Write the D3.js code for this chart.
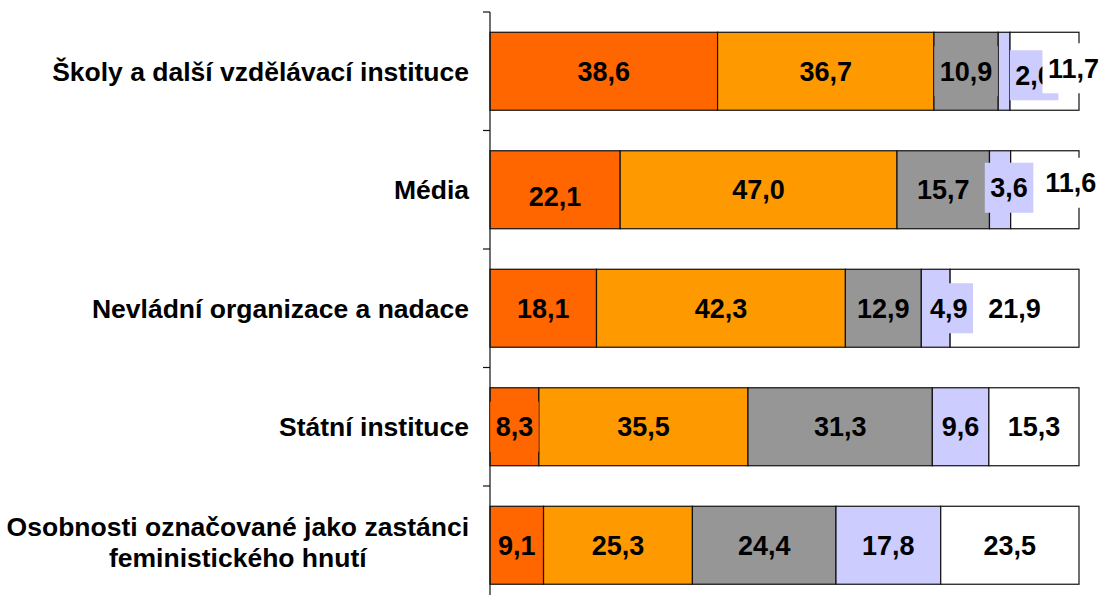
<!DOCTYPE html>
<html>
<head>
<meta charset="utf-8">
<script src="https://cdn.jsdelivr.net/npm/d3@7"></script>
<style>
    body { margin: 0; background: #fff; }
    svg { display: block; font-family: "Liberation Sans", Arial, sans-serif; font-weight: bold; }
</style>
</head>
<body>
<svg width="1104" height="595"></svg>
<script>
// categories, top to bottom (multi-line labels split with \n)
const categories = [
    "Školy a další vzdělávací instituce",
    "Média",
    "Nevládní organizace a nadace",
    "Státní instituce",
    "Osobnosti označované jako zastánci\nfeministického hnutí"
];

// five answer groups, one value per category
const s1 = [38.6, 22.1, 18.1, 8.3, 9.1];
const s2 = [36.7, 47.0, 42.3, 35.5, 25.3];
const s3 = [10.9, 15.7, 12.9, 31.3, 24.4];
const s4 = [2.0, 3.6, 4.9, 9.6, 17.8];
const s5 = [11.7, 11.6, 21.9, 15.3, 23.5];
const series = [s1, s2, s3, s4, s5];

const colors = ["#FF6600", "#FF9900", "#969696", "#CCCCFF", "#FFFFFF"];

// labels that were moved by hand in the original: [row, series, dx, dy]
const labelNudges = [[0, 3, 30, 4], [0, 4, 29, -3], [1, 0, 0, 7], [1, 3, 9, -2], [1, 4, 26, -7], [2, 3, 13, 0]];

const svg = d3.select("svg");

const y = d3.scaleBand()
    .domain(categories)
    .range([12, 604.5])
    .paddingInner(0.342)
    .paddingOuter(0.171);

const x = d3.scaleLinear().domain([0, 100]).range([490, 1079]);

const fmt = v => v.toFixed(1).replace(".", ",");

// build stacked rows normalised to 100 %
const rows = categories.map((c, i) => {
    const total = d3.sum(series, s => s[i]);
    let acc = 0;
    return series.map((s, j) => {
        const seg = { cat: c, row: i, ser: j, value: s[i], x0: acc / total * 100 };
        acc += s[i];
        seg.x1 = acc / total * 100;
        return seg;
    });
});
const segs = rows.flat();

// bars
svg.append("g").selectAll("rect")
    .data(segs)
    .join("rect")
    .attr("x", d => x(d.x0))
    .attr("y", d => y(d.cat))
    .attr("width", d => x(d.x1) - x(d.x0))
    .attr("height", y.bandwidth())
    .attr("fill", d => colors[d.ser])
    .attr("stroke", "#111")
    .attr("stroke-width", 1.2);

// axis line with ticks between categories
const axis = svg.append("g");
axis.append("line")
    .attr("x1", x(0)).attr("x2", x(0))
    .attr("y1", y.range()[0]).attr("y2", y.range()[1])
    .attr("stroke", "#111").attr("stroke-width", 1.2);
d3.range(categories.length + 1).forEach(i => {
    const ty = y.range()[0] + i * y.step();
    axis.append("line")
        .attr("x1", x(0) - 7).attr("x2", x(0))
        .attr("y1", ty).attr("y2", ty)
        .attr("stroke", "#111").attr("stroke-width", 1.2);
});

// category labels
categories.forEach(c => {
    const lines = c.split("\n");
    const cy = y(c) + y.bandwidth() / 2;
    const g = svg.append("g");
    const texts = lines.map((t, k) => g.append("text")
        .attr("font-size", "26.5px")
        .attr("fill", "#000")
        .attr("text-anchor", "middle")
        .attr("y", cy + 9.5 + (k - (lines.length - 1) / 2) * 31 - (lines.length > 1 ? 3 : 0))
        .text(t));
    const w = d3.max(texts, t => t.node().getComputedTextLength());
    texts.forEach(t => t.attr("x", 469 - w / 2));
});

// value labels, drawn series by series with a filled box like the original
const labels = svg.append("g");
series.forEach((s, j) => {
    segs.filter(d => d.ser === j).forEach(d => {
        const nudge = labelNudges.find(n => n[0] === d.row && n[1] === j) || [0, 0, 0, 0];
        const cx = (x(d.x0) + x(d.x1)) / 2 + nudge[2];
        const cy = y(d.cat) + y.bandwidth() / 2 + nudge[3];
        const box = labels.append("rect").attr("fill", colors[j]);
        const t = labels.append("text")
            .attr("x", cx)
            .attr("y", cy + 9.7)
            .attr("text-anchor", "middle")
            .attr("font-size", "27px")
            .attr("fill", "#000")
            .text(fmt(d.value));
        const w = t.node().getComputedTextLength();
        box.attr("x", cx - w / 2 - 5.5)
            .attr("y", cy - 25)
            .attr("width", w + 11)
            .attr("height", 50);
    });
});
</script>
</body>
</html>
